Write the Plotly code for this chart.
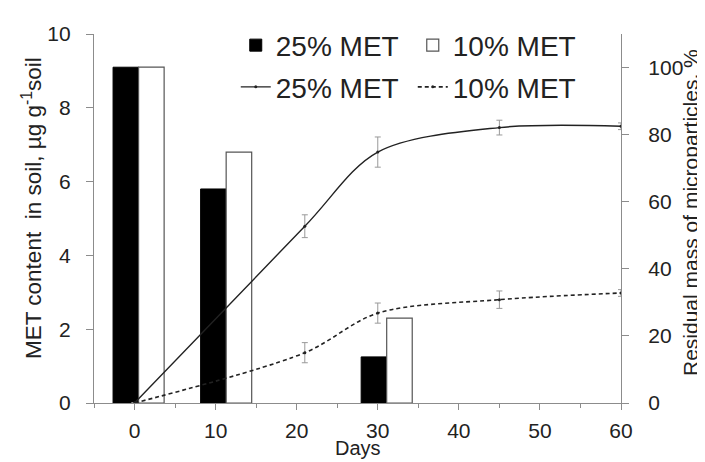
import plotly.graph_objects as go

# ---- data ----
bar_days = [0, 10, 30]
met25_soil = [9.1, 5.8, 1.25]      # ug/g soil, 25% MET
met10_soil = [9.1, 6.8, 2.3]       # ug/g soil, 10% MET

line_days = [0, 21, 30, 45, 60]
mass25 = [0, 52.7, 74.8, 82.1, 82.5]   # residual mass %, 25% MET
mass25_err = [0, 3.4, 4.5, 2.2, 1.0]
mass10 = [0, 15.0, 26.8, 30.8, 32.8]   # residual mass %, 10% MET
mass10_err = [0, 3.0, 3.0, 2.6, 1.0]

x_tick_vals = [0, 10, 20, 30, 40, 50, 60]
left_tick_vals = [0, 2, 4, 6, 8, 10]
right_tick_vals = [0, 20, 40, 60, 80, 100]

left_title = "MET content  in soil, µg g<sup>-1</sup>soil"
right_title = "Residual mass of microparticles, %"
x_title = "Days"

# ---- styling constants ----
BAR_W = 3.15
BAR_SHIFT = [0.5, 1.3, 1.1]
FONT = "Liberation Sans, Arial, sans-serif"
AXIS_COL = "#8c8c8c"

fig = go.Figure()

fig.add_trace(go.Bar(
    x=bar_days, y=met25_soil, name="25% MET",
    width=BAR_W, offset=[s - BAR_W for s in BAR_SHIFT],
    marker=dict(color="black", line=dict(color="black", width=1)),
    legend="legend", yaxis="y",
))
fig.add_trace(go.Bar(
    x=bar_days, y=met10_soil, name="10% MET",
    width=BAR_W, offset=BAR_SHIFT,
    marker=dict(color="white", line=dict(color="#555555", width=1.2)),
    legend="legend", yaxis="y",
))

fig.add_trace(go.Scatter(
    x=line_days, y=mass25, name="25% MET", mode="lines+markers",
    line=dict(color="#222222", width=1.4, shape="spline", smoothing=0.9),
    marker=dict(size=3, color="#222222"),
    error_y=dict(type="data", array=mass25_err, color="#999999", thickness=1, width=3),
    yaxis="y2", legend="legend2",
))
fig.add_trace(go.Scatter(
    x=line_days, y=mass10, name="10% MET", mode="lines+markers",
    line=dict(color="#222222", width=1.6, dash="4px,3px", shape="spline", smoothing=0.9),
    marker=dict(size=3, color="#222222"),
    error_y=dict(type="data", array=mass10_err, color="#999999", thickness=1, width=3),
    yaxis="y2", legend="legend2",
))

fig.update_layout(
    width=705, height=462,
    margin=dict(l=86, r=92, t=26, b=67),
    paper_bgcolor="white", plot_bgcolor="white",
    font=dict(family=FONT, size=21, color="#222222"),
    barmode="overlay",
    showlegend=True,
    xaxis=dict(
        range=[-5, 60], tickvals=x_tick_vals, ticks="outside", ticklen=6,
        tickcolor=AXIS_COL, showline=True, linecolor=AXIS_COL, linewidth=1.2,
        showgrid=False, zeroline=False, automargin=False, ticklabelstandoff=3,
        minor=dict(dtick=5, tick0=-5, ticks="outside", ticklen=4, tickcolor=AXIS_COL),
        tickfont=dict(size=21),
    ),
    yaxis=dict(
        range=[0, 10], tickvals=left_tick_vals, ticks="outside", ticklen=7,
        tickcolor=AXIS_COL, showline=True, linecolor=AXIS_COL, linewidth=1.2,
        showgrid=False, zeroline=False, automargin=False, ticklabelstandoff=11,
        tickfont=dict(size=21),
    ),
    yaxis2=dict(
        range=[0, 110], tickvals=right_tick_vals, ticks="outside", ticklen=7,
        tickcolor=AXIS_COL, showline=True, linecolor=AXIS_COL, linewidth=1.2,
        showgrid=False, zeroline=False, overlaying="y", side="right",
        automargin=False, ticklabelstandoff=15,
        tickfont=dict(size=21),
    ),
    legend=dict(
        orientation="h", x=0.269, y=0.969, xanchor="left", yanchor="middle",
        bgcolor="rgba(0,0,0,0)", font=dict(size=28), itemwidth=30,
        entrywidth=132, entrywidthmode="pixels", traceorder="normal",
    ),
    legend2=dict(
        orientation="h", x=0.269, y=0.856, xanchor="left", yanchor="middle",
        bgcolor="rgba(0,0,0,0)", font=dict(size=28), itemwidth=30,
        entrywidth=132, entrywidthmode="pixels", traceorder="normal",
    ),
    annotations=[
        dict(text=left_title, textangle=-90, xref="paper", yref="paper",
             x=(24 - 86) / 527, y=(395 - 200) / 369, xanchor="center", yanchor="middle",
             showarrow=False, font=dict(size=22.5)),
        dict(text=right_title, textangle=-90, xref="paper", yref="paper",
             x=(682 - 86) / 527, y=(395 - 205) / 369, xanchor="center", yanchor="middle",
             showarrow=False, font=dict(size=21)),
        dict(text=x_title, xref="paper", yref="paper",
             x=(350 - 86) / 527, y=(395 - 440) / 369, xanchor="center", yanchor="middle",
             showarrow=False, font=dict(size=20)),
    ],
)

fig.write_html("out.html")
